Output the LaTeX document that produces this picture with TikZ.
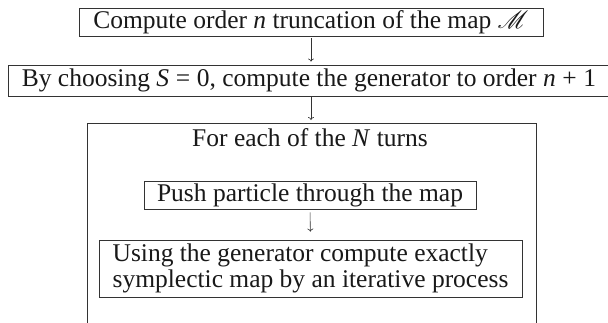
\documentclass[tikz,border=0pt]{standalone}
\usepackage{fix-cm}
\usepackage{mathrsfs}
\usepackage{fontspec}
\setmainfont{Liberation Serif}
\usetikzlibrary{arrows.meta}

\newcommand{\rel}[1]{\kern0.26em#1\kern0.26em}

\tikzset{
  stepbox/.style={draw=black!80, line width=0.8pt, inner sep=0pt, align=center},
  flow/.style={-{To[length=3pt,width=6pt]}, line width=0.6pt, draw=black!80},
}

\begin{document}
\begin{tikzpicture}[x=1pt, y=-1pt, font=\fontsize{25.5}{26}\selectfont, text=black!90]
  \clip (0,0) rectangle (608,322);
  \fill[white] (0,0) rectangle (608,322);

  % top-level steps
  \node[stepbox, minimum width=464, minimum height=28] (trunc) at (311,22)
    {Compute order \textit{n} truncation of the map $\mathscr{M}$};
  \node[stepbox, minimum width=602, minimum height=31] (gen) at (309,80.5)
    {By choosing \textit{S}\rel{=}0, compute the generator to order \textit{n}\rel{+}1};

  % loop over turns
  \node[draw=black!80, line width=0.8pt, inner sep=0pt, minimum width=449,
        minimum height=240, anchor=north west] (loop) at (86.5,123) {};
  \node (turns) at (310,138) {For each of the \textit{N} turns};
  \node[stepbox, minimum width=332, minimum height=28] (push) at (310,195)
    {Push particle through the map};
  \node[stepbox, align=left, minimum width=423, minimum height=57] (symp) at (310.5,268.5)
    {Using the generator compute exactly\\symplectic map by an iterative process};

  % connectors
  \draw[flow, shorten <=2pt, shorten >=3pt] (trunc.south) -- (trunc.south |- gen.north);
  \draw[flow, shorten <=1pt, shorten >=3pt] (gen.south -| trunc.south) -- (loop.north -| trunc.south);
  \draw[flow, shorten <=3pt, shorten >=8pt] (push.south) -- (symp.north);
\end{tikzpicture}
\end{document}
